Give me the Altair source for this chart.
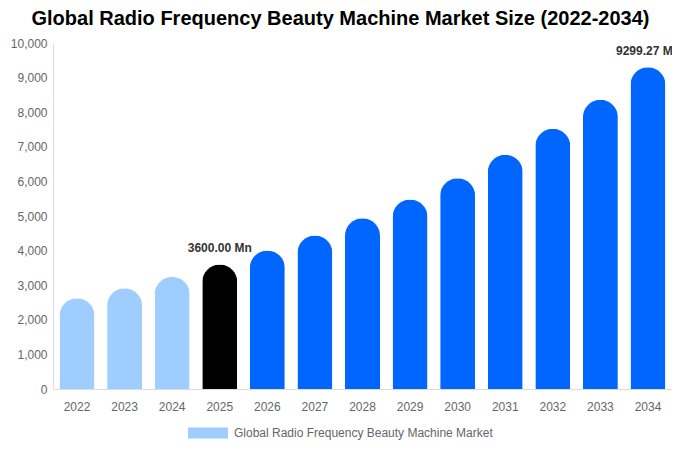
import altair as alt
import pandas as pd

years = ["2022", "2023", "2024", "2025", "2026", "2027", "2028", "2029", "2030", "2031", "2032", "2033", "2034"]
values = [2620, 2910, 3240, 3600, 4000, 4440, 4935, 5480, 6090, 6770, 7520, 8360, 9299.27]
shades = ["#a0cdff", "#a0cdff", "#a0cdff", "#000000", "#0066ff", "#0066ff", "#0066ff",
          "#0066ff", "#0066ff", "#0066ff", "#0066ff", "#0066ff", "#0066ff"]
labels = ["", "", "", "3600.00 Mn", "", "", "", "", "", "", "", "", "9299.27 Mn"]
series = "Global Radio Frequency Beauty Machine Market"

df = pd.DataFrame({"year": years, "value": values, "shade": shades, "label": labels,
                   "series": [series] * len(years)})

x = alt.X("year:N", title=None, scale=alt.Scale(paddingInner=0.27, paddingOuter=0.14),
          axis=alt.Axis(labelAngle=0, ticks=False, labelColor="#666666", labelFontSize=12,
                        labelPadding=12, domainColor="#dddddd", labelFont="Liberation Sans"))
y = alt.Y("value:Q", title=None, scale=alt.Scale(domain=[0, 10000], nice=False),
          axis=alt.Axis(values=list(range(0, 10001, 1000)), format=",.0f", grid=False, ticks=False,
                        labelColor="#666666", labelFontSize=12, labelPadding=6,
                        domainColor="#dddddd", labelFont="Liberation Sans"))

bars = alt.Chart(df).mark_bar(width=35, cornerRadiusTopLeft=17.5, cornerRadiusTopRight=17.5).encode(
    x=x, y=y,
    fill=alt.Fill("shade:N", scale=None),
)

legend_layer = alt.Chart(df).mark_point(opacity=0, filled=True).encode(
    x=x, y=y,
    color=alt.Color("series:N", scale=alt.Scale(range=["#a0cdff"]), title=None,
                    legend=alt.Legend(orient="none", legendX=135, legendY=370,
                                      symbolType="M-1,-0.275L1,-0.275L1,0.275L-1,0.275Z",
                                      symbolSize=1600, symbolOpacity=1, symbolStrokeWidth=0,
                                      labelColor="#666666", labelFontSize=12,
                                      labelFont="Liberation Sans", labelOffset=6,
                                      labelLimit=400)),
)

text = alt.Chart(df).mark_text(baseline="bottom", dy=-9, fontSize=12, fontWeight="bold",
                               color="#333333", font="Liberation Sans").encode(
    x=x, y=y, text="label:N"
)

chart = alt.layer(bars, legend_layer, text).properties(
    width=619, height=346,
    autosize=alt.AutoSizeParams(type="none"),
    padding={"left": 45, "top": 35, "right": 0, "bottom": 53},
    title=alt.TitleParams("Global Radio Frequency Beauty Machine Market Size (2022-2034)",
                          fontSize=20, fontWeight="bold", color="#000000",
                          font="Liberation Sans", anchor="middle", dx=-22, offset=8),
).configure_view(stroke=None)

chart.save("out.html", embed_options={"renderer": "svg", "actions": False})
